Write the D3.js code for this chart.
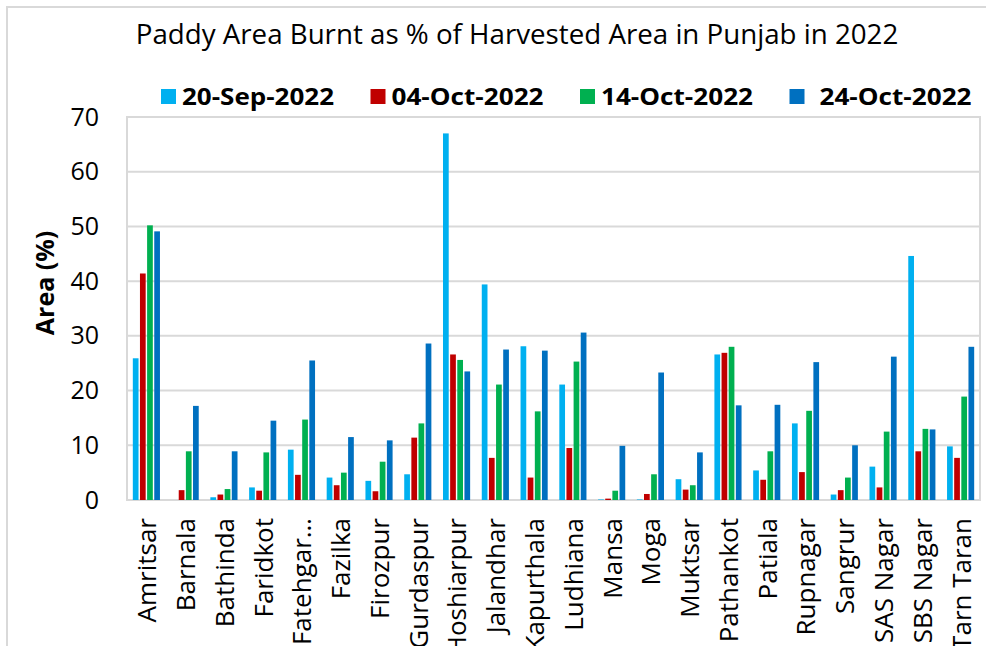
<!DOCTYPE html>
<html>
<head>
<meta charset="utf-8">
<script src="https://cdn.jsdelivr.net/npm/d3@7"></script>
<style>
  body { margin: 0; background: #fff; }
  svg { display: block; }
</style>
</head>
<body>
<div id="chart"></div>
<script>
// Paddy area burnt in Punjab districts, 2022

var districts = ["Amritsar", "Barnala", "Bathinda", "Faridkot", "Fatehgarh Sahib", "Fazilka",
  "Firozpur", "Gurdaspur", "Hoshiarpur", "Jalandhar", "Kapurthala", "Ludhiana", "Mansa",
  "Moga", "Muktsar", "Pathankot", "Patiala", "Rupnagar", "Sangrur", "SAS Nagar",
  "SBS Nagar", "Tarn Taran"];

var seriesNames = ["20-Sep-2022", "04-Oct-2022", "14-Oct-2022", "24-Oct-2022"];
var seriesColors = ["#00b0f0", "#c00000", "#00b050", "#0070c0"];

var sep20 = [25.9, 0, 0.5, 2.3, 9.2, 4.1, 3.5, 4.7, 67.0, 39.4, 28.1, 21.1, 0.1, 0.1, 3.8, 26.6, 5.4, 14.0, 1.0, 6.1, 44.6, 9.8];
var oct04 = [41.4, 1.8, 1.0, 1.7, 4.6, 2.7, 1.6, 11.4, 26.6, 7.7, 4.1, 9.5, 0.25, 1.1, 1.9, 26.9, 3.7, 5.1, 1.8, 2.3, 8.9, 7.7];
var oct14 = [50.2, 8.9, 2.0, 8.7, 14.7, 5.0, 7.0, 14.0, 25.6, 21.1, 16.2, 25.3, 1.7, 4.7, 2.7, 28.0, 8.9, 16.3, 4.1, 12.5, 13.0, 18.9];
var oct24 = [49.1, 17.2, 8.9, 14.5, 25.5, 11.5, 10.9, 28.6, 23.5, 27.5, 27.3, 30.6, 9.9, 23.3, 8.7, 17.3, 17.4, 25.2, 10.0, 26.2, 12.9, 28.0];

var yTicks = [0, 10, 20, 30, 40, 50, 60, 70];

var allSeries = [sep20, oct04, oct14, oct24];

var width = 986, height = 646;
var plot = { left: 127, right: 980, top: 117, bottom: 500 };
var gridColor = "#d9d9d9";
var font = "'Open Sans', 'DejaVu Sans', sans-serif";

var svg = d3.select("#chart").append("svg")
  .attr("width", width)
  .attr("height", height);

// outer chart frame
svg.append("rect")
  .attr("x", 7).attr("y", 7)
  .attr("width", 1000).attr("height", 700)
  .attr("fill", "#fff")
  .attr("stroke", gridColor)
  .attr("stroke-width", 2);

var x0 = d3.scaleBand()
  .domain(districts)
  .range([plot.left, plot.right])
  .paddingInner(0.3)
  .paddingOuter(0.15);

var x1 = d3.scaleBand()
  .domain(seriesNames)
  .range([0, x0.bandwidth()])
  .paddingInner(0.2);

var y = d3.scaleLinear().domain([0, 70]).range([plot.bottom, plot.top]);

// gridlines
svg.append("g")
  .selectAll("line")
  .data(yTicks)
  .enter().append("line")
  .attr("x1", plot.left).attr("x2", plot.right)
  .attr("y1", function(d) { return y(d); })
  .attr("y2", function(d) { return y(d); })
  .attr("stroke", gridColor)
  .attr("stroke-width", 2);

// plot area border
svg.append("rect")
  .attr("x", plot.left).attr("y", plot.top)
  .attr("width", plot.right - plot.left)
  .attr("height", plot.bottom - plot.top)
  .attr("fill", "none")
  .attr("stroke", gridColor)
  .attr("stroke-width", 2);

// y axis labels
var yAxis = d3.axisLeft(y).tickValues(yTicks).tickSize(0).tickPadding(28);
var gy = svg.append("g")
  .attr("transform", "translate(" + plot.left + ",0)")
  .call(yAxis);
gy.select(".domain").remove();
gy.selectAll("text")
  .style("font-family", font)
  .style("font-size", "25px")
  .attr("fill", "#000");

// bars, one group per district
var rows = districts.map(function(d, i) {
  return { district: d, values: seriesNames.map(function(s, j) {
    return { series: s, color: seriesColors[j], value: allSeries[j][i] };
  }) };
});

var groups = svg.append("g")
  .selectAll("g")
  .data(rows)
  .enter().append("g")
  .attr("transform", function(d) { return "translate(" + x0(d.district) + ",0)"; });

groups.selectAll("rect")
  .data(function(d) { return d.values; })
  .enter().append("rect")
  .attr("x", function(d) { return x1(d.series); })
  .attr("width", x1.bandwidth())
  .attr("y", function(d) { return y(d.value); })
  .attr("height", function(d) { return y(0) - y(d.value); })
  .attr("fill", function(d) { return d.color; });

// x axis labels, rotated (long names get an ellipsis like the original)
var xAxis = d3.axisBottom(x0).tickSize(0).tickPadding(0)
  .tickFormat(function(d) { return d.length > 10 ? d.slice(0, 8) + "\u2026" : d; });
var gx = svg.append("g")
  .attr("transform", "translate(0," + plot.bottom + ")")
  .call(xAxis);
gx.select(".domain").remove();
gx.selectAll("text")
  .style("font-family", font)
  .style("font-size", "26px")
  .attr("fill", "#000")
  .attr("text-anchor", "end")
  .attr("y", 0)
  .attr("dy", "0.38em")
  .attr("transform", "translate(0,18) rotate(-90)");

// y axis title
svg.append("text")
  .attr("transform", "translate(45,283) rotate(-90)")
  .attr("text-anchor", "middle")
  .attr("dy", "0.35em")
  .style("font-family", font)
  .style("font-size", "25px")
  .style("font-weight", "bold")
  .text("Area (%)");

// chart title
var title = svg.append("text")
  .attr("x", 517).attr("y", 44)
  .attr("text-anchor", "middle")
  .style("font-family", font)
  .style("font-size", "25px")
  .text("Paddy Area Burnt as % of Harvested Area in Punjab in 2022");
// fit the title to the reference width
var tw = title.node().getComputedTextLength();
title.style("font-size", (25 * 763 / tw) + "px");

// legend
var legend = svg.append("g")
  .selectAll("g")
  .data(seriesNames)
  .enter().append("g")
  .attr("transform", function(d, i) { return "translate(" + (161 + i * 209.5) + ",89)"; });

legend.append("rect")
  .attr("width", 15).attr("height", 15)
  .attr("fill", function(d, i) { return seriesColors[i]; });

legend.append("text")
  .attr("x", function(d, i) { return i == 3 ? 30 : 21; })
  .attr("y", 16)
  .attr("textLength", 152)
  .attr("lengthAdjust", "spacingAndGlyphs")
  .style("font-family", font)
  .style("font-size", "24px")
  .style("font-weight", "bold")
  .text(function(d) { return d; });
</script>
</body>
</html>
